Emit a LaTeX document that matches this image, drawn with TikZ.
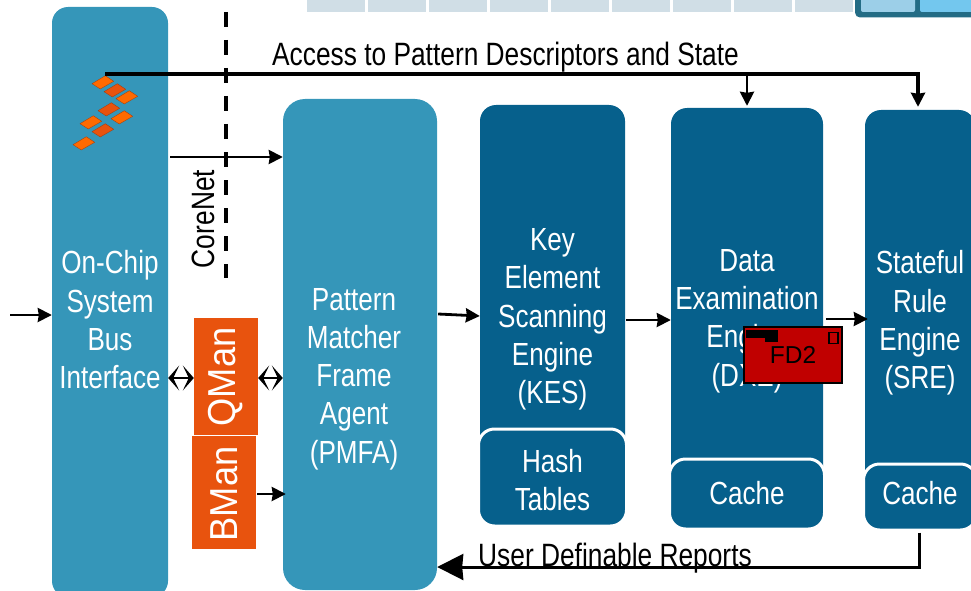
\documentclass[tikz,border=0pt]{standalone}
\usepackage{fontspec}
\setmainfont[FakeStretch=0.815]{Liberation Sans}
\newfontfamily\widefont{Liberation Sans}
\newfontfamily\manfont[FakeStretch=0.93]{Liberation Sans}
\usepackage{tikz}
\usetikzlibrary{arrows.meta,calc,positioning}

\definecolor{lightblue}{HTML}{3596B9}
\definecolor{darkblue}{HTML}{06608C}
\definecolor{manorange}{HTML}{E8530E}
\definecolor{logoorange}{HTML}{FF6A00}
\definecolor{fdred}{HTML}{C00000}
\definecolor{stripgrey}{HTML}{D0DEE6}
\definecolor{frameteal}{HTML}{236C85}

\tikzset{
  block/.style={minimum width=#1, inner sep=0pt, text=white, align=center},
  lightblock/.style={block=#1, fill=lightblue, rounded corners=16pt},
  darkblock/.style={block=#1, fill=darkblue, rounded corners=16pt},
  subblock/.style={block=#1, fill=darkblue, draw=white, line width=3pt, rounded corners=16pt},
  blocktext/.style={text=white, align=center, inner sep=0pt, font=\fontsize{32}{38.3}\selectfont},
  mantext/.style={fill=manorange, text=white, inner sep=0pt, font=\manfont\fontsize{39}{39}\selectfont},
  flowtext/.style={inner sep=0pt, text=black, font=\fontsize{32.3}{36}\selectfont},
  flow/.style={line width=2.8pt, -{Stealth[length=14pt,width=14pt,inset=1pt]}},
  both/.style={line width=2.4pt, {Stealth[length=11pt,width=25pt,inset=6pt]}-{Stealth[length=11pt,width=25pt,inset=6pt]}},
  stripcell/.style={fill=stripgrey}
}

\begin{document}
\begin{tikzpicture}[%
x=1pt,
y=1pt,
node distance=100pt,
on grid
]
\useasboundingbox (0,0) rectangle (971,-591);
\clip (0,0) rectangle (971,-591);

% strip along the top edge
\foreach \i in {0,...,8}
  \fill[stripcell] ({307+61*\i},2) rectangle ++(58,-14);
\fill[frameteal, rounded corners=5pt] (855,12) rectangle (990,-17.5);
\fill[fill={rgb,255:red,156;green,207;blue,232}, rounded corners=2pt] (861,6) rectangle (915,-12);
\fill[fill={rgb,255:red,115;green,199;blue,238}, rounded corners=2pt] (920,6) rectangle (985,-12);

% blocks
\node[lightblock=116pt, minimum height=590pt] (busif) at (110,-302) {};
\node[lightblock=154pt, minimum height=491pt, rounded corners=22pt] (pmfa) [below right=42.5pt and 250pt of busif] {};
\node[darkblock=145pt, minimum height=419pt] (kes) [above right=30pt and 192.5pt of pmfa] {};
\node[darkblock=152pt, minimum height=419pt] (dxe) [below right=3pt and 194.5pt of kes] {};
\node[darkblock=110pt, minimum height=418pt] (sre) [below right=1.5pt and 173pt of dxe] {};
\node[subblock=148pt, minimum height=97pt] (hash) [below=163pt of kes] {};
\node[subblock=155pt, minimum height=70pt] (dxecache) [below=176.5pt of dxe] {};
\node[subblock=113pt, minimum height=66pt] (srecache) [below=178pt of sre] {};

% block texts
\node[blocktext] (bustext) [below=18pt of busif] {On-Chip\\System\\Bus\\Interface};
\node[blocktext] (pmfatext) [below left=34.5pt and 6pt of pmfa] {Pattern\\Matcher\\Frame\\Agent\\(PMFA)};
\node[blocktext] (kestext) [below=5pt of kes] {Key\\Element\\Scanning\\Engine\\(KES)};
\node[blocktext] (dxetext) [below=3.5pt of dxe] {Data\\Examination\\Engine\\(DXE)};
\node[blocktext] (sretext) [below=4pt of sre] {Stateful\\Rule\\Engine\\(SRE)};
\node[blocktext] (hashtext) [below=2.5pt of hash] {Hash\\Tables};
\node[blocktext] (dxecachetext) [above=1pt of dxecache] {Cache};
\node[blocktext] (srecachetext) [above=4pt of srecache] {Cache};

% queue and buffer managers
\node[mantext, minimum width=64pt, minimum height=117pt] (qman) at (226,-376.5) {\rotatebox{90}{QMan\hspace{1pt}}};
\node[mantext, minimum width=64pt, minimum height=113pt] (bman) [below left=116pt and 2pt of qman] {\rotatebox{90}{BMan\hspace{3pt}}};

% labels
\node[flowtext] (access) at (505.5,-57) {Access to Pattern Descriptors and State};
\node[flowtext] (reports) at (615,-558) {User Definable Reports};
\node[flowtext, rotate=90] (corenet) at (203,-219) {CoreNet};

% debug flag over the DXE
\node[draw=black, line width=2pt, fill=fdred, minimum width=98pt, minimum height=56pt, inner sep=0pt,
      font=\widefont\fontsize{24.5}{24.5}\selectfont] (fd2) [below right=37pt and 46pt of dxe] {FD2};
\fill[black] ([shift={(3pt,-4pt)}] fd2.north west) rectangle ++(32,-8);
\fill[black] ([shift={(22pt,-12pt)}] fd2.north west) rectangle ++(13,-4);
\draw[black, line width=1.5pt, fill=fdred] ([shift={(-5pt,-7pt)}] fd2.north east) rectangle ++(-9,-11);

% logo
\foreach \px/\py/\col in {102/-82/logoorange,114/-90/manorange,126/-97/logoorange,108/-109/manorange,
                          121/-117/logoorange,90/-122/logoorange,102/-130/manorange,83/-143/logoorange}
  \filldraw[fill=\col, draw=manorange!70!black, line width=0.3pt]
    (\px-10,\py-1.7) -- (\px+3.3,\py+6.3) -- (\px+11.7,\py+0.7) -- (\px-1.7,\py-7) -- cycle;

% corenet boundary
\coordinate (dashtop) at (226,-12);
\coordinate (dashend) at (226,-278);
\draw[line width=3.5pt, dash pattern=on 15pt off 13pt] (dashtop) -- (dashend);

% connectors
\coordinate (logotip) at (105,-74);
\coordinate (inlet) at (10,-315);
\draw[flow, line width=3.2pt] (logotip) -| ([xshift=-2pt,yshift=3pt] sre.north);
\draw[flow] (dxe.north |- logotip) -- ([yshift=2pt] dxe.north);
\draw[flow] ([shift={(2pt,145pt)}] busif.east) -- ([yshift=187.5pt] pmfa.west);
\draw[flow] (inlet) -- (busif.west |- inlet);
\draw[both] (busif.east |- 0,-378) -- (qman.west |- 0,-378);
\draw[both] (qman.east |- 0,-378) -- (pmfa.west |- 0,-378);
\draw[flow] ([shift={(1pt,-1.5pt)}] bman.east) -- ([shift={(3pt,-149.5pt)}] pmfa.west);
\draw[flow] ([shift={(1pt,30.5pt)}] pmfa.east) -- ([yshift=-1.5pt] kes.west);
\draw[flow] ([shift={(1pt,-5.5pt)}] kes.east) -- ([yshift=-2.5pt] dxe.west);
\draw[flow] ([shift={(3pt,-1.5pt)}] dxe.east) -- ([xshift=3pt] sre.west);
\draw[line width=3pt, -{Stealth[length=26pt,width=26pt,inset=1pt]}]
  ([xshift=-1pt,yshift=-1pt] srecache.south) |- ([yshift=-222.5pt] pmfa.east);
\end{tikzpicture}
\end{document}
